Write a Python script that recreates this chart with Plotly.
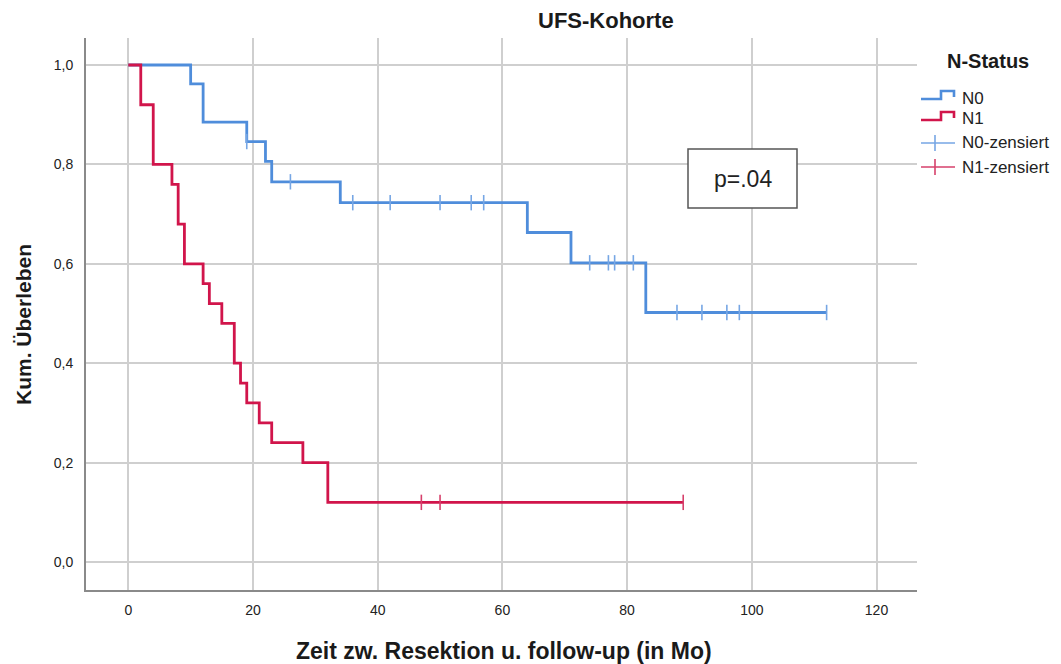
import numpy as np
import plotly.graph_objects as go

# Kaplan-Meier estimates, UFS cohort split by N status
n0_times = [0, 10, 12, 19, 22, 23, 34, 64, 71, 83]
n0_surv = [1.0, 0.962, 0.885, 0.846, 0.806, 0.765, 0.723, 0.663, 0.602, 0.502]
n0_end = 112
n0_censored = [19, 26, 36, 42, 50, 55, 57, 74, 77, 78, 81, 88, 92, 96, 98, 112]

n1_times = [0, 2, 4, 7, 8, 9, 12, 13, 15, 17, 18, 19, 21, 23, 28, 32]
n1_surv = [1.0, 0.92, 0.80, 0.76, 0.68, 0.60, 0.56, 0.52, 0.48, 0.40, 0.36, 0.32, 0.28, 0.24, 0.20, 0.12]
n1_end = 89
n1_censored = [47, 50, 89]

x_ticks = [0, 20, 40, 60, 80, 100, 120]
y_ticks = [0.0, 0.2, 0.4, 0.6, 0.8, 1.0]
y_ticktext = ["0,0", "0,2", "0,4", "0,6", "0,8", "1,0"]

series_names = ["N0", "N1"]
censor_names = ["N0-zensiert", "N1-zensiert"]
p_text = "p=.04"

BLUE = "#4f8ddb"
BLUE_C = "#76a6e4"
RED = "#d1154b"
RED_C = "#d6406b"
FONT = "Liberation Sans, Arial, sans-serif"

W, H = 1061, 664
L, R, T, B = 86, 144, 38, 74


def px(x):
    return (x - L) / (W - L - R)


def py(y):
    return (H - B - y) / (H - T - B)


def step_value(times, surv, t):
    idx = np.searchsorted(np.asarray(times), t, side="right") - 1
    return float(np.asarray(surv)[idx])


fig = go.Figure()

for times, surv, end, cens, col, ccol in [
    (n0_times, n0_surv, n0_end, n0_censored, BLUE, BLUE_C),
    (n1_times, n1_surv, n1_end, n1_censored, RED, RED_C),
]:
    fig.add_trace(go.Scatter(
        x=list(times) + [end], y=list(surv) + [surv[-1]],
        mode="lines", line=dict(color=col, width=2.8, shape="hv"),
        showlegend=False, hoverinfo="skip"))
    fig.add_trace(go.Scatter(
        x=cens, y=[step_value(times, surv, t) for t in cens],
        mode="markers",
        marker=dict(symbol="line-ns", size=11, line=dict(color=ccol, width=1.6)),
        showlegend=False, hoverinfo="skip"))

shapes = []
annotations = []

# p-value box
shapes.append(dict(type="rect", xref="paper", yref="paper",
                   x0=px(688), x1=px(797), y0=py(208), y1=py(149),
                   fillcolor="white", line=dict(color="#555555", width=1.5)))
annotations.append(dict(text=p_text, xref="paper", yref="paper",
                        x=px(742.5), y=py(179), xanchor="center", yanchor="middle",
                        showarrow=False, font=dict(family=FONT, size=23, color="#222222")))

# legend block
annotations.append(dict(text="<b>N-Status</b>", xref="paper", yref="paper",
                        x=px(988), y=py(61), xanchor="center", yanchor="middle",
                        showarrow=False, font=dict(family=FONT, size=20, color="#1a1a1a")))


def path(points):
    return "M " + " L ".join(f"{px(a)},{py(b)}" for a, b in points)


rows_y = [98, 119, 143, 167]
for i, (name, col) in enumerate(zip(series_names, [BLUE, RED])):
    yy = rows_y[i]
    shapes.append(dict(type="path", xref="paper", yref="paper",
                       path=path([(921, yy + 1), (941, yy + 1), (941, yy - 7),
                                  (954, yy - 7), (954, yy - 1)]),
                       line=dict(color=col, width=2.6)))
for i, (name, col) in enumerate(zip(censor_names, [BLUE_C, RED_C])):
    yy = rows_y[i + 2]
    shapes.append(dict(type="line", xref="paper", yref="paper",
                       x0=px(921), x1=px(955), y0=py(yy), y1=py(yy),
                       line=dict(color=col, width=1.6)))
    shapes.append(dict(type="line", xref="paper", yref="paper",
                       x0=px(935), x1=px(935), y0=py(yy - 8), y1=py(yy + 8),
                       line=dict(color=col, width=1.6)))
for name, yy in zip(series_names + censor_names, rows_y):
    annotations.append(dict(text=name, xref="paper", yref="paper",
                            x=px(960), y=py(yy), xanchor="left", yanchor="middle",
                            showarrow=False, font=dict(family=FONT, size=17, color="#222222")))

# titles
annotations.append(dict(text="<b>UFS-Kohorte</b>", xref="paper", yref="paper",
                        x=px(606), y=py(20), xanchor="center", yanchor="middle",
                        showarrow=False, font=dict(family=FONT, size=22, color="#1a1a1a")))
annotations.append(dict(text="<b>Zeit zw. Resektion u. follow-up (in Mo)</b>", xref="paper", yref="paper",
                        x=px(504), y=py(651), xanchor="center", yanchor="middle",
                        showarrow=False, font=dict(family=FONT, size=23, color="#1a1a1a")))
annotations.append(dict(text="<b>Kum. Überleben</b>", xref="paper", yref="paper",
                        x=px(23), y=py(325), xanchor="center", yanchor="middle", textangle=-90,
                        showarrow=False, font=dict(family=FONT, size=21, color="#1a1a1a")))

fig.update_layout(
    width=W, height=H,
    margin=dict(l=L, r=R, t=T, b=B),
    paper_bgcolor="white", plot_bgcolor="white",
    showlegend=False,
    shapes=shapes, annotations=annotations,
    font=dict(family=FONT, color="#222222"),
)
fig.update_xaxes(
    range=[(L - 128.3) / 6.235, (W - R - 128.3) / 6.235],
    tickvals=x_ticks, ticktext=[str(v) for v in x_ticks],
    showgrid=True, gridcolor="#cfcfcf", gridwidth=1.6, zeroline=False,
    showline=True, linecolor="#8a8a8a", linewidth=2,
    ticks="", ticklabelstandoff=6, tickfont=dict(size=14, color="#222222"),
)
fig.update_yaxes(
    range=[(562 - (H - B)) / 497, (562 - T) / 497],
    tickvals=y_ticks, ticktext=y_ticktext,
    showgrid=True, gridcolor="#cfcfcf", gridwidth=1.6, zeroline=False,
    showline=True, linecolor="#8a8a8a", linewidth=2,
    ticks="", ticklabelstandoff=8, tickfont=dict(size=14, color="#222222"),
)

fig.write_html("out.html")
